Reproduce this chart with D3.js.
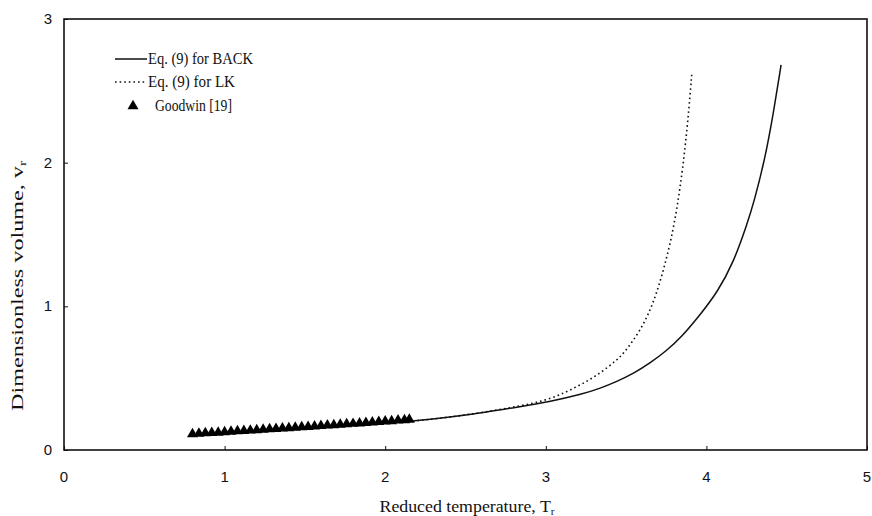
<!DOCTYPE html>
<html>
<head>
<meta charset="utf-8">
<script src="https://cdn.jsdelivr.net/npm/d3@7"></script>
<style>
  html, body { margin: 0; padding: 0; background: #fff; }
  svg { display: block; }
  .tick-label { font-family: "Liberation Sans", Arial, sans-serif; font-size: 15px; fill: #111; }
  .title { font-family: "Liberation Serif", "Times New Roman", serif; font-size: 16px; fill: #111; }
</style>
</head>
<body>
<svg id="chart" width="872" height="516"></svg>
<script>
// ---- Data ----
const xTicks = [0, 1, 2, 3, 4, 5];
const yTicks = [0, 1, 2, 3];

// Eq. (9) for BACK (solid)
const backTr = [0.80, 1.00, 1.50, 2.00, 2.20, 2.40, 2.61, 2.82, 3.03, 3.23, 3.34, 3.44, 3.55, 3.65, 3.75, 3.84, 3.96, 4.07, 4.17, 4.25, 4.30, 4.365, 4.415, 4.465];
const backVr = [0.105, 0.118, 0.150, 0.188, 0.203, 0.228, 0.260, 0.298, 0.338, 0.390, 0.430, 0.475, 0.535, 0.605, 0.690, 0.780, 0.940, 1.100, 1.310, 1.560, 1.740, 2.030, 2.330, 2.680];

// Eq. (9) for LK (dotted)
const lkTr = [0.80, 1.00, 1.50, 2.00, 2.20, 2.40, 2.61, 2.82, 3.03, 3.23, 3.34, 3.44, 3.48, 3.59, 3.67, 3.73, 3.78, 3.82, 3.855, 3.885, 3.91];
const lkVr = [0.105, 0.118, 0.150, 0.188, 0.203, 0.228, 0.262, 0.302, 0.350, 0.460, 0.535, 0.625, 0.665, 0.830, 1.020, 1.240, 1.460, 1.700, 1.980, 2.290, 2.630];

// Goodwin [19] (triangles)
const goodTr = [0.80, 0.84, 0.88, 0.92, 0.96, 1.00, 1.04, 1.08, 1.12, 1.16, 1.20, 1.24, 1.28, 1.32, 1.36, 1.40, 1.44, 1.48, 1.52, 1.56, 1.60, 1.64, 1.68, 1.72, 1.76, 1.80, 1.84, 1.88, 1.92, 1.96, 2.00, 2.04, 2.08, 2.12, 2.15];
const goodVr = [0.111, 0.114, 0.117, 0.119, 0.122, 0.125, 0.128, 0.131, 0.133, 0.136, 0.139, 0.142, 0.145, 0.148, 0.150, 0.153, 0.156, 0.159, 0.162, 0.165, 0.168, 0.171, 0.174, 0.177, 0.180, 0.183, 0.186, 0.189, 0.192, 0.196, 0.199, 0.202, 0.206, 0.209, 0.212];

const legendLabels = ["Eq. (9) for BACK", "Eq. (9) for LK", "Goodwin [19]"];

// ---- Layout ----
const svg = d3.select("#chart");
const L = 64, R = 867, T = 19, B = 450;
const x = d3.scaleLinear().domain([0, 5]).range([L, R]);
const y = d3.scaleLinear().domain([0, 3]).range([B, T]);

// Frame
svg.append("rect").attr("x", L).attr("y", T).attr("width", R - L).attr("height", B - T)
  .attr("fill", "none").attr("stroke", "#111").attr("stroke-width", 1.6);

// Axes with inward ticks
const xAxis = svg.append("g").attr("transform", `translate(0,${B})`)
  .call(d3.axisTop(x).tickValues(xTicks).tickSize(4).tickFormat(""));
xAxis.select(".domain").remove();
xAxis.selectAll("line").attr("stroke", "#111");
const yAxis = svg.append("g").attr("transform", `translate(${L},0)`)
  .call(d3.axisRight(y).tickValues(yTicks).tickSize(4).tickFormat(""));
yAxis.select(".domain").remove();
yAxis.selectAll("line").attr("stroke", "#111");

// Tick labels
svg.append("g").selectAll("text").data(xTicks).join("text")
  .attr("class", "tick-label").attr("x", d => x(d)).attr("y", 482)
  .attr("text-anchor", "middle").text(d => d);
svg.append("g").selectAll("text").data(yTicks).join("text")
  .attr("class", "tick-label").attr("x", 52).attr("y", d => y(d) + 5)
  .attr("text-anchor", "end").text(d => d);

// Axis titles
const xt = svg.append("text").attr("class", "title").attr("x", 467).attr("y", 512)
  .attr("text-anchor", "middle").attr("textLength", 175).attr("lengthAdjust", "spacingAndGlyphs");
xt.append("tspan").text("Reduced temperature, T");
xt.append("tspan").attr("font-size", "10px").attr("dy", 3).text("r");

const yt = svg.append("text").attr("class", "title").attr("font-size", "15px")
  .attr("transform", `translate(23,286) rotate(-90)`).attr("text-anchor", "middle")
  .attr("textLength", 250).attr("lengthAdjust", "spacingAndGlyphs");
yt.append("tspan").text("Dimensionless volume, v");
yt.append("tspan").attr("font-size", "10px").attr("dy", 3).text("r");

// Curves
const line = d3.line().x(d => x(d[0])).y(d => y(d[1])).curve(d3.curveBasis);
svg.append("path").datum(d3.zip(lkTr, lkVr)).attr("d", line)
  .attr("fill", "none").attr("stroke", "#111").attr("stroke-width", 1.6)
  .attr("stroke-dasharray", "1.6,3");
svg.append("path").datum(d3.zip(backTr, backVr)).attr("d", line)
  .attr("fill", "none").attr("stroke", "#111").attr("stroke-width", 1.5);

// Goodwin triangles
const tri = d3.symbol().type(d3.symbolTriangle).size(52);
svg.append("g").selectAll("path").data(d3.zip(goodTr, goodVr)).join("path")
  .attr("transform", d => `translate(${x(d[0])},${y(d[1])})`)
  .attr("d", tri).attr("fill", "#000");

// Legend
const lg = svg.append("g");
lg.append("line").attr("x1", 115).attr("x2", 147).attr("y1", 59).attr("y2", 59)
  .attr("stroke", "#111").attr("stroke-width", 1.5);
lg.append("text").attr("class", "title").attr("x", 148).attr("y", 64)
  .attr("textLength", 105).attr("lengthAdjust", "spacingAndGlyphs").text(legendLabels[0]);
lg.append("line").attr("x1", 115).attr("x2", 147).attr("y1", 82).attr("y2", 82)
  .attr("stroke", "#111").attr("stroke-width", 1.6).attr("stroke-dasharray", "1.6,3");
lg.append("text").attr("class", "title").attr("x", 148).attr("y", 87)
  .attr("textLength", 87).attr("lengthAdjust", "spacingAndGlyphs").text(legendLabels[1]);
lg.append("path").attr("transform", "translate(133,106)").attr("d", tri).attr("fill", "#000");
lg.append("text").attr("class", "title").attr("x", 155).attr("y", 111)
  .attr("textLength", 77).attr("lengthAdjust", "spacingAndGlyphs").text(legendLabels[2]);
</script>
</body>
</html>
